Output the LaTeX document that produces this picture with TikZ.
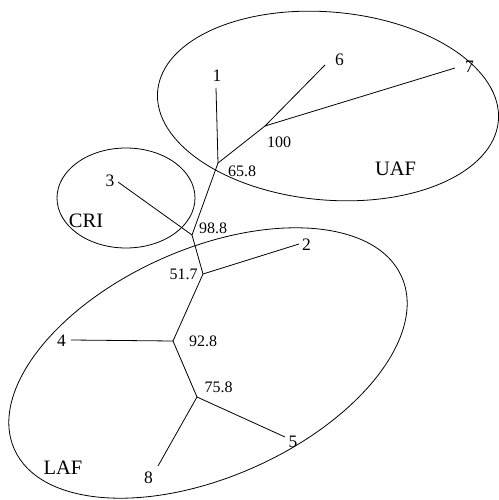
\documentclass[tikz,border=0pt]{standalone}
\usepackage{fontspec}
\setmainfont{Liberation Serif}
\begin{document}
\begin{tikzpicture}[x=1pt, y=-1pt, line width=0.8pt,
  every node/.style={inner sep=0pt},
  leaf/.style={font=\fontsize{17.5}{20}\selectfont},
  boot/.style={font=\fontsize{16}{18}\selectfont},
  group/.style={font=\fontsize{20.5}{24}\selectfont}]

     \useasboundingbox (0,0) rectangle (498,500);

     % Grupos (elipses)
     \draw[rotate around={-5:(328,106)}] (328,106) ellipse [x radius=171, y radius=94];
     \draw (126,198) ellipse [x radius=69, y radius=50];
     \draw[rotate around={24:(208,363)}] (208,363) ellipse [x radius=212, y radius=114];

     % Nodos internos
     \coordinate (b658) at (218,163);
     \coordinate (b100) at (265,126);
     \coordinate (b988) at (192,235);
     \coordinate (b517) at (203,274);
     \coordinate (b928) at (173,341);
     \coordinate (b758) at (197,397);

     % Extremos de las ramas
     \coordinate (t1) at (216,88);
     \coordinate (t2) at (299,244);
     \coordinate (t3) at (118,182);
     \coordinate (t4) at (71,340);
     \coordinate (t5) at (285,437);
     \coordinate (t6) at (325,65);
     \coordinate (t7) at (455,68);
     \coordinate (t8) at (158,466);

     % Etiquetas de las hojas
     \node[leaf] (l1) at (217,76) {1};
     \node[leaf] (l2) at (306.5,244.5) {2};
     \node[leaf] (l3) at (110,180.5) {3};
     \node[leaf] (l4) at (61.5,341) {4};
     \node[leaf] (l5) at (293,441.5) {5};
     \node[leaf] (l6) at (339.5,60) {6};
     \node[leaf] (l7) at (469.5,67) {7};
     \node[leaf] (l8) at (148.5,478) {8};

     % Valores de soporte
     \node[boot] (s658) at (242,171.5) {65.8};
     \node[boot] (s100) at (279,142) {100};
     \node[boot] (s988) at (213,228) {98.8};
     \node[boot] (s517) at (183.5,274.5) {51.7};
     \node[boot] (s928) at (203,341.5) {92.8};
     \node[boot] (s758) at (218.5,387.5) {75.8};

     % Nombres de los grupos
     \node[group] (uaf) at (395.5,168.5) {UAF};
     \node[group] (cri) at (86,221) {CRI};
     \node[group] (laf) at (63,468) {LAF};

     % Ramas
     \draw (b658) -- (t1);
     \draw (b658) -- (b100);
     \draw (b100) -- (t6);
     \draw (b100) -- (t7);
     \draw (b658) -- (b988);
     \draw (b988) -- (t3);
     \draw (b988) -- (b517);
     \draw (b517) -- (t2);
     \draw (b517) -- (b928);
     \draw (b928) -- (t4);
     \draw (b928) -- (b758);
     \draw (b758) -- (t5);
     \draw (b758) -- (t8);

   \end{tikzpicture}
\end{document}
